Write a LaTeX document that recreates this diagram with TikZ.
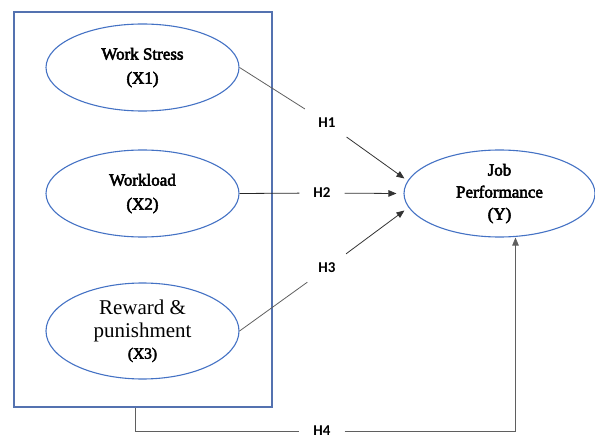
\documentclass[tikz,border=0pt]{standalone}
\usepackage{fontspec}
\setmainfont{Liberation Serif}[BoldFont={Liberation Serif}, BoldFeatures={FakeBold=3}]
\newfontfamily\hypfont{Carlito}
\usetikzlibrary{shapes.geometric,arrows.meta}

\definecolor{ovalblue}{RGB}{68,114,196}
\definecolor{frameblue}{RGB}{84,114,176}
\definecolor{linegray}{RGB}{95,95,95}

\tikzset{
  var/.style={ellipse, draw=ovalblue, line width=1.1pt, minimum width=193pt,
    minimum height=87pt, inner sep=0pt, align=center,
    font=\bfseries\fontsize{17}{24}\selectfont},
  hyp/.style={inner xsep=14pt, inner ysep=9pt,
    font=\hypfont\bfseries\fontsize{15}{18}\selectfont},
  link/.style={draw=linegray, line width=0.8pt},
  arr/.style={draw=black!80, line width=0.8pt, -{Triangle[length=8pt,width=6.5pt]}}
}

\begin{document}
\begin{tikzpicture}[x=1pt,y=-1pt]
\useasboundingbox (0,0) rectangle (595,441);

% Independent variables
\node[draw=frameblue, line width=1.2pt, minimum width=258pt, minimum height=395pt,
  inner sep=0pt] (frame) at (143,209.5) {};
\node[var] (ws) at (142.5,67.5) {Work Stress\\(X1)};
\node[var] (wl) at (142.5,193.5) {Workload\\(X2)};
\node[var, minimum height=96pt] (rp) at (142.5,331)
  {{\mdseries\fontsize{21}{25}\selectfont Reward \&}\\[-1pt]
   {\mdseries\fontsize{21}{25}\selectfont punishment}\\[-3pt]
   {\fontsize{15.5}{18}\selectfont (X3)}};

% Dependent variable
\node[var, minimum width=191pt, font=\bfseries\fontsize{17}{22}\selectfont]
  (jp) at (499.5,193.5) {Job\\Performance\\(Y)};

% Hypotheses
\node[hyp] (h1) at (327,123) {H1};
\node[hyp] (h2) at (322,193) {H2};
\node[hyp] (h3) at (327,268) {H3};
\node[hyp] (h4) at (322,431) {H4};

\draw[link] (ws.east) -- (h1);
\draw[arr] (h1) -- ([yshift=15pt,xshift=1pt]jp.west);
\draw[link, draw=black!85] (wl.east) -- (h2);
\draw[arr] (h2) -- ([xshift=-7pt]jp.west);
\draw[link] (rp.east) -- (h3);
\draw[arr] (h3) -- ([yshift=-17pt,xshift=1pt]jp.west);
\draw[link] ([xshift=-8pt]frame.south) |- (h4);
\draw[arr, draw=linegray] (h4) -| ([xshift=16pt]jp.south);

\end{tikzpicture}
\end{document}
